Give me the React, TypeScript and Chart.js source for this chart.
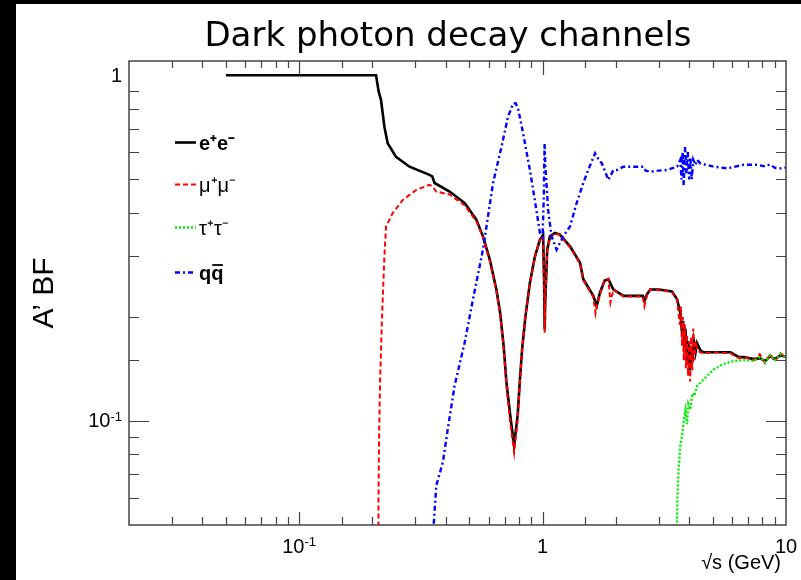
import React, { useEffect, useRef } from "react";
import { Chart, registerables } from "chart.js";
Chart.register(...registerables);

const TITLE = "Dark photon decay channels";
const Y_TITLE = "A’ BF";
const X_TITLE = "√s (GeV)";
const LEGEND_LABELS = ["e⁺e⁻", "μ⁺μ⁻", "τ⁺τ⁻", "qq"];
const LEGEND_OVERLINE = [false, false, false, true];

const X_MIN = 0.02;
const X_MAX = 10;
const Y_MIN = 0.05;
const Y_MAX = 1.1;

// [sqrt(s) GeV, branching fraction]
const eePoints = [
  [0.05, 1.0], [0.207, 1.0], [0.212, 0.9], [0.217, 0.847], [0.224, 0.71], [0.231, 0.636],
  [0.25, 0.581], [0.284, 0.544], [0.343, 0.515], [0.352, 0.51], [0.36, 0.488], [0.415, 0.461],
  [0.479, 0.427], [0.535, 0.382], [0.569, 0.342], [0.607, 0.293], [0.646, 0.24], [0.67, 0.205],
  [0.693, 0.163], [0.71, 0.13], [0.735, 0.105], [0.764, 0.085], [0.79, 0.104], [0.806, 0.13],
  [0.824, 0.161], [0.85, 0.2], [0.887, 0.251], [0.93, 0.299], [0.975, 0.334], [1.005, 0.345],
  [1.015, 0.25], [1.02, 0.184], [1.025, 0.22], [1.045, 0.313], [1.072, 0.342], [1.124, 0.35],
  [1.178, 0.346], [1.296, 0.32], [1.425, 0.287], [1.47, 0.257], [1.616, 0.23], [1.669, 0.215],
  [1.72, 0.235], [1.8, 0.255], [1.864, 0.257], [1.954, 0.24], [2.15, 0.23], [2.58, 0.23],
  [2.62, 0.222], [2.68, 0.232], [2.77, 0.24], [3.0, 0.24], [3.4, 0.237], [3.57, 0.225],
  [3.68, 0.205], [3.74, 0.18], [3.78, 0.195], [3.82, 0.16], [3.86, 0.185], [3.92, 0.15],
  [3.97, 0.17], [4.02, 0.14], [4.07, 0.165], [4.12, 0.148], [4.18, 0.17], [4.25, 0.158],
  [4.31, 0.168], [4.45, 0.16], [4.59, 0.158], [5.05, 0.158], [5.91, 0.158], [6.4, 0.153],
  [6.71, 0.153], [7.38, 0.151], [7.8, 0.152], [8.2, 0.149], [8.6, 0.154], [9.0, 0.151],
  [9.5, 0.155], [10, 0.153],
];

const mumuPoints = [
  [0.2113, 0.02], [0.2118, 0.06], [0.213, 0.09], [0.215, 0.13], [0.219, 0.2], [0.224, 0.3],
  [0.2275, 0.365], [0.242, 0.399], [0.2667, 0.436], [0.303, 0.466], [0.343, 0.482], [0.352, 0.478],
  [0.366, 0.461], [0.415, 0.452], [0.479, 0.42], [0.535, 0.378], [0.569, 0.34], [0.607, 0.29],
  [0.646, 0.238], [0.67, 0.203], [0.693, 0.16], [0.71, 0.127], [0.735, 0.1], [0.764, 0.081],
  [0.79, 0.1], [0.806, 0.128], [0.824, 0.16], [0.85, 0.2], [0.887, 0.25], [0.93, 0.298],
  [0.975, 0.333], [1.005, 0.343], [1.015, 0.24], [1.02, 0.18], [1.025, 0.22], [1.045, 0.31],
  [1.072, 0.34], [1.124, 0.35], [1.178, 0.345], [1.296, 0.318], [1.425, 0.285], [1.47, 0.255],
  [1.616, 0.228], [1.65, 0.205], [1.669, 0.215], [1.72, 0.232], [1.8, 0.256], [1.864, 0.258],
  [1.9, 0.22], [1.954, 0.24], [2.15, 0.229], [2.58, 0.229], [2.62, 0.215], [2.68, 0.23],
  [2.77, 0.24], [3.0, 0.239], [3.4, 0.236], [3.57, 0.225], [3.66, 0.19], [3.7, 0.215],
  [3.74, 0.165], [3.77, 0.2], [3.8, 0.15], [3.84, 0.19], [3.88, 0.142], [3.92, 0.178],
  [3.96, 0.135], [4.0, 0.17], [4.04, 0.13], [4.08, 0.175], [4.12, 0.14], [4.16, 0.185],
  [4.2, 0.15], [4.26, 0.17], [4.31, 0.16], [4.45, 0.158], [4.59, 0.157], [5.05, 0.158],
  [5.91, 0.157], [6.4, 0.152], [6.71, 0.153], [7.38, 0.15], [7.8, 0.156], [8.2, 0.147],
  [8.6, 0.156], [9.0, 0.149], [9.5, 0.157], [10, 0.152],
];

const tautauPoints = [
  [3.554, 0.02], [3.56, 0.045], [3.58, 0.06], [3.62, 0.0727], [3.68, 0.085], [3.74, 0.0907],
  [3.8, 0.1], [3.86, 0.107], [3.92, 0.098], [3.97, 0.112], [4.05, 0.108], [4.12, 0.12],
  [4.2, 0.118], [4.31, 0.126], [4.45, 0.129], [4.59, 0.132], [5.05, 0.141], [5.5, 0.146],
  [6.1, 0.149], [6.71, 0.15], [7.38, 0.149], [7.8, 0.153], [8.2, 0.148], [8.6, 0.155],
  [9.0, 0.15], [9.5, 0.156], [10, 0.152],
];

const qqPoints = [
  [0.35, 0.03], [0.357, 0.05], [0.366, 0.0651], [0.3895, 0.076], [0.408, 0.0948], [0.435, 0.1264],
  [0.4786, 0.1686], [0.5177, 0.225], [0.569, 0.313], [0.626, 0.488], [0.678, 0.621], [0.721, 0.758],
  [0.757, 0.829], [0.775, 0.83], [0.793, 0.802], [0.832, 0.679], [0.887, 0.532], [0.929, 0.436],
  [0.975, 0.35], [1.0, 0.34], [1.012, 0.45], [1.019, 0.636], [1.026, 0.55], [1.054, 0.408],
  [1.089, 0.342], [1.142, 0.313], [1.216, 0.342], [1.296, 0.365], [1.38, 0.427], [1.47, 0.488],
  [1.54, 0.532], [1.643, 0.595], [1.7, 0.57], [1.75, 0.557], [1.864, 0.498], [1.954, 0.532],
  [2.02, 0.532], [2.15, 0.544], [2.6, 0.544], [2.65, 0.53], [2.77, 0.526], [3.0, 0.53],
  [3.24, 0.532], [3.57, 0.544], [3.68, 0.57], [3.72, 0.5], [3.76, 0.6], [3.8, 0.48],
  [3.85, 0.62], [3.9, 0.52], [3.95, 0.6], [4.0, 0.5], [4.05, 0.58], [4.1, 0.5], [4.16, 0.57],
  [4.25, 0.55], [4.31, 0.569], [4.45, 0.556], [5.05, 0.544], [5.73, 0.538], [6.71, 0.551],
  [7.62, 0.551], [8.2, 0.545], [8.6, 0.552], [9.0, 0.54], [9.5, 0.538], [10, 0.541],
];

const LABEL_FONT = "20px 'Liberation Sans'";
const SUP_FONT = "13px 'Liberation Sans'";

function isDecade(v: number) {
  const l = Math.log10(v);
  return Math.abs(l - Math.round(l)) < 1e-6;
}
// [base, exponent] text for a decade tick
function decadeParts(v: number): [string, string] {
  const e = Math.round(Math.log10(v));
  if (e === 0) return ["1", ""];
  if (e === 1) return ["10", ""];
  return ["10", String(e)];
}

function drawPow(ctx: CanvasRenderingContext2D, v: number, x: number, y: number, align: "right" | "center") {
  const [base, exp] = decadeParts(v);
  ctx.font = LABEL_FONT;
  const wb = ctx.measureText(base).width;
  ctx.font = SUP_FONT;
  const we = exp ? ctx.measureText(exp).width : 0;
  const total = wb + we;
  const x0 = align === "right" ? x - total : x - total / 2;
  ctx.textAlign = "left";
  ctx.font = LABEL_FONT;
  ctx.textBaseline = "middle";
  ctx.fillText(base, x0, y);
  if (exp) {
    ctx.font = SUP_FONT;
    ctx.textBaseline = "alphabetic";
    ctx.fillText(exp, x0 + wb, y - 1);
  }
}

const toXY = (pts: number[][]) => pts.map(([x, y]) => ({ x, y }));

const decorPlugin = {
  id: "decor",
  beforeDraw(chart: any) {
    const { ctx, width, height } = chart;
    ctx.save();
    ctx.fillStyle = "#ffffff";
    ctx.fillRect(0, 0, width, height);
    ctx.fillStyle = "#000000";
    ctx.fillRect(0, 0, 16, height);
    ctx.fillRect(0, 0, width, 4);
    ctx.restore();
  },
  afterDraw(chart: any) {
    const { ctx, chartArea: a, scales } = chart;
    ctx.save();
    // frame
    ctx.strokeStyle = "#444444";
    ctx.lineWidth = 1.5;
    ctx.strokeRect(a.left, a.top, a.right - a.left, a.bottom - a.top);
    ctx.lineWidth = 1.2;
    ctx.beginPath();
    for (const t of scales.x.ticks) {
      const v = t.value;
      if (v <= X_MIN * 1.0001 || v >= X_MAX * 0.9999) continue;
      const px = Math.round(scales.x.getPixelForValue(v)) + 0.5;
      const major = isDecade(v);
      ctx.moveTo(px, a.bottom);
      ctx.lineTo(px, a.bottom - (major ? 13 : 8));
      ctx.moveTo(px, a.top);
      ctx.lineTo(px, a.top + (major ? 14 : 7));
    }
    for (const t of scales.y.ticks) {
      const v = t.value;
      if (v <= Y_MIN * 1.0001 || v >= 0.9999) continue;
      const py = Math.round(scales.y.getPixelForValue(v)) + 0.5;
      const major = isDecade(v);
      ctx.moveTo(a.left, py);
      ctx.lineTo(a.left + (major ? 20 : 10), py);
      ctx.moveTo(a.right, py);
      ctx.lineTo(a.right - (major ? 20 : 10), py);
    }
    ctx.stroke();

    // tick labels
    ctx.fillStyle = "#000000";
    for (const t of scales.x.ticks) {
      if (!isDecade(t.value)) continue;
      drawPow(ctx, t.value, scales.x.getPixelForValue(t.value), a.bottom + 22, "center");
    }
    for (const t of scales.y.ticks) {
      if (!isDecade(t.value)) continue;
      drawPow(ctx, t.value, a.left - 7, scales.y.getPixelForValue(t.value) + 1, "right");
    }

    // title
    ctx.font = "34px 'DejaVu Sans'";
    ctx.textAlign = "center";
    ctx.textBaseline = "alphabetic";
    ctx.fillText(TITLE, 448, 46);

    // x title
    ctx.font = "20px 'Liberation Sans'";
    ctx.textAlign = "right";
    ctx.fillText(X_TITLE, 781, 569);

    // y title
    ctx.save();
    ctx.translate(45, 293);
    ctx.rotate(-Math.PI / 2);
    ctx.font = "30px 'Liberation Sans'";
    ctx.textAlign = "center";
    ctx.textBaseline = "middle";
    ctx.fillText(Y_TITLE, 0, 0);
    ctx.restore();

    // legend
    const rows = [142, 184, 227, 272];
    const bold = [true, false, false, true];
    chart.data.datasets.forEach((ds: any, i: number) => {
      const y = rows[i] + 0.5;
      ctx.save();
      ctx.strokeStyle = ds.borderColor;
      ctx.lineWidth = ds.borderWidth;
      ctx.setLineDash(ds.borderDash || []);
      ctx.beginPath();
      ctx.moveTo(175, y);
      ctx.lineTo(196, y);
      ctx.stroke();
      ctx.restore();
      ctx.fillStyle = "#000000";
      ctx.font = (bold[i] ? "bold " : "") + "20px 'Liberation Sans'";
      ctx.textAlign = "left";
      ctx.textBaseline = "middle";
      const label = LEGEND_LABELS[i];
      ctx.fillText(label, 199, rows[i] + 2);
      if (LEGEND_OVERLINE[i]) {
        const w1 = ctx.measureText(label.slice(0, 1)).width;
        const w2 = ctx.measureText(label).width;
        ctx.strokeStyle = "#000000";
        ctx.lineWidth = 1.8;
        ctx.beginPath();
        ctx.moveTo(199 + w1 + 1, rows[i] - 7);
        ctx.lineTo(199 + w2 - 0.5, rows[i] - 7);
        ctx.stroke();
      }
    });
    ctx.restore();
  },
};

export default function App() {
  const ref = useRef<HTMLCanvasElement | null>(null);
  useEffect(() => {
    if (!ref.current) return;
    Chart.defaults.font.family = "'Liberation Sans', Arial, sans-serif";
    const chart = new Chart(ref.current, {
      type: "line",
      data: {
        datasets: [
          { label: "ee", data: toXY(eePoints), borderColor: "#000000", borderWidth: 2.6, order: 4 },
          { label: "mumu", data: toXY(mumuPoints), borderColor: "#ff0000", borderWidth: 2, borderDash: [5, 3], order: 3 },
          { label: "tautau", data: toXY(tautauPoints), borderColor: "#00ee00", borderWidth: 2.4, borderDash: [2, 2], order: 2 },
          { label: "qq", data: toXY(qqPoints), borderColor: "#0000ff", borderWidth: 2.4, borderDash: [5, 3, 2, 3], order: 1 },
        ] as any,
      },
      options: {
        animation: false,
        responsive: false,
        elements: { point: { radius: 0 }, line: { tension: 0, fill: false } },
        layout: { padding: { top: 61, right: 15, left: 0, bottom: 0 } },
        plugins: { legend: { display: false }, tooltip: { enabled: false }, title: { display: false } },
        scales: {
          x: {
            type: "logarithmic",
            min: X_MIN,
            max: X_MAX,
            grid: { display: false, drawTicks: false },
            border: { display: false },
            afterFit: (s: any) => { s.height = 55; s.paddingLeft = 0; s.paddingRight = 0; },
            ticks: { display: false, autoSkip: false, maxRotation: 0, minRotation: 0 },
          },
          y: {
            type: "logarithmic",
            min: Y_MIN,
            max: Y_MAX,
            grid: { display: false, drawTicks: false },
            border: { display: false },
            afterFit: (s: any) => { s.width = 129; s.paddingTop = 0; s.paddingBottom = 0; },
            ticks: { display: false, autoSkip: false },
          },
        },
      } as any,
      plugins: [decorPlugin],
    });
    return () => chart.destroy();
  }, []);
  return (
    <div style={{ position: "absolute", left: 0, top: 0, width: 801, height: 580 }}>
      <canvas ref={ref} width={801} height={580} style={{ display: "block" }} />
    </div>
  );
}
